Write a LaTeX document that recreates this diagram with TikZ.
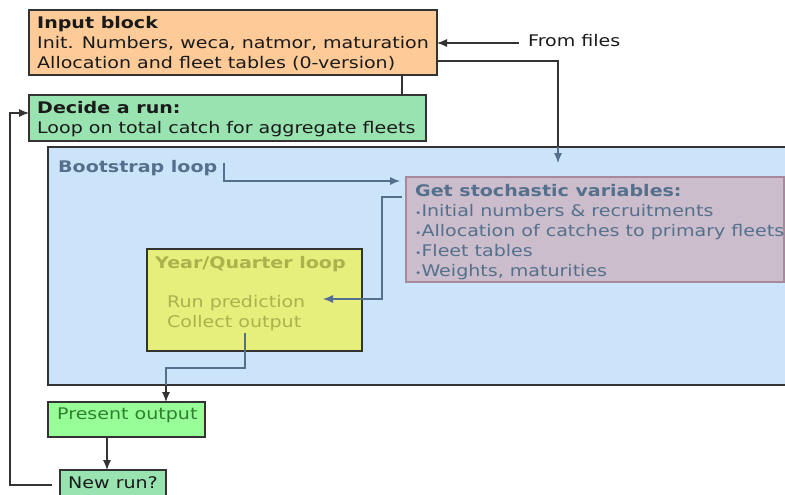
\documentclass[tikz,border=0pt]{standalone}
\usepackage{fontspec}
\setmainfont{DejaVu Sans}[FakeStretch=1.19]
\usetikzlibrary{arrows.meta}
\definecolor{orfill}{HTML}{FECB98}
\definecolor{decfill}{HTML}{98E3B0}
\definecolor{bluefill}{HTML}{CCE4FA}
\definecolor{mauvefill}{HTML}{CBBDCB}
\definecolor{mauvedraw}{HTML}{A8889B}
\definecolor{yelfill}{HTML}{E6EF7C}
\definecolor{grnfill}{HTML}{98FF98}
\definecolor{slate}{HTML}{55708C}
\definecolor{olive}{HTML}{A9B24C}
\definecolor{dkgreen}{HTML}{2E7F2E}
\definecolor{boxline}{HTML}{333333}
\definecolor{txtcol}{HTML}{1A1A1A}
\tikzset{
  box/.style={draw=boxline, line width=1.2pt, anchor=north west, inner sep=0pt, outer sep=0pt},
  txt/.style={anchor=north west, inner sep=0pt, align=left, text=txtcol, font=\fontsize{16}{20}\selectfont},
  arr/.style={draw=boxline, line width=1.1pt, -{Latex[length=10pt,width=8pt]}},
  sarr/.style={draw=slate, line width=1.1pt, -{Latex[length=10pt,width=8pt]}},
  ln/.style={draw=boxline, line width=1.1pt},
}
\begin{document}
\begin{tikzpicture}[x=1pt,y=-1pt]
\useasboundingbox (0,0) rectangle (785,495);
% boxes
\node[box, fill=orfill, minimum width=408pt, minimum height=65pt] (inp) at (29,10) {};
\node[box, fill=decfill, minimum width=397pt, minimum height=46pt] (dec) at (29,95) {};
\node[box, fill=bluefill, minimum width=745pt, minimum height=238pt] (boot) at (48,147) {};
\node[box, draw=mauvedraw, fill=mauvefill, minimum width=378pt, minimum height=105pt] (stoch) at (406,177) {};
\node[box, fill=yelfill, minimum width=215pt, minimum height=102pt] (yq) at (147,249) {};
\node[box, fill=grnfill, minimum width=157pt, minimum height=35pt] (pres) at (48,402) {};
\node[box, fill=decfill, minimum width=106pt, minimum height=30pt] (nr) at (60,470) {};
% texts
\node[txt] (inptxt) at (37,16) {\textbf{Input block}\\Init. Numbers, weca, natmor, maturation\\Allocation and fleet tables (0-version)};
\node[txt] (dectxt) at (37,101) {\textbf{Decide a run:}\\Loop on total catch for aggregate fleets};
\node[txt, text=slate] (boottxt) at (58,160) {\textbf{Bootstrap loop}};
\node[txt, text=slate] (stochtxt) at (415,184) {\textbf{Get stochastic variables:}\\{\fontsize{9}{9}\selectfont•}Initial numbers \& recruitments\\{\fontsize{9}{9}\selectfont•}Allocation of catches to primary fleets\\{\fontsize{9}{9}\selectfont•}Fleet tables\\{\fontsize{9}{9}\selectfont•}Weights, maturities};
\node[txt, text=olive] (yqtxt) at (155,256) {\textbf{Year/Quarter loop}};
\node[txt, text=olive] (runtxt) at (167,295) {Run prediction\\Collect output};
\node[txt, text=dkgreen] (prestxt) at (57,408) {Present output};
\node[txt] (nrtxt) at (68,476) {New run?};
\node[txt] (ff) at (528,34) {From files};
% coordinates
\coordinate (ffa) at (519,43);
\coordinate (c61) at (0,61);
\coordinate (c163) at (558,163);
\coordinate (bt0) at (224,163);
\coordinate (bt1) at (400,181);
\coordinate (st0) at (402,197);
\coordinate (rp) at (323,299);
\coordinate (co0) at (245,333);
\coordinate (co1) at (166,385);
\coordinate (loopy) at (0,113);
% connectors
\draw[arr] (ffa) -- (inp.east |- ffa);
\draw[ln] (inp.east |- c61) -| (558,147);
\draw[sarr] (558,147) -- (c163);
\draw[ln] (inp.south -| 402,0) -- (dec.north -| 402,0);
\draw[sarr] (bt0) |- (bt1);
\draw[sarr] (st0) -- (382,197) |- (rp);
\draw[draw=slate, line width=1.1pt] (co0) -- (245,368) -| (co1);
\draw[arr] (co1) -- (pres.north -| co1);
\draw[arr] (pres.south -| 107,0) -- (nr.north -| 107,0);
\draw[arr] ([xshift=-8pt]nr.west) -- (10,485) |- (dec.west |- loopy);
\end{tikzpicture}
\end{document}
